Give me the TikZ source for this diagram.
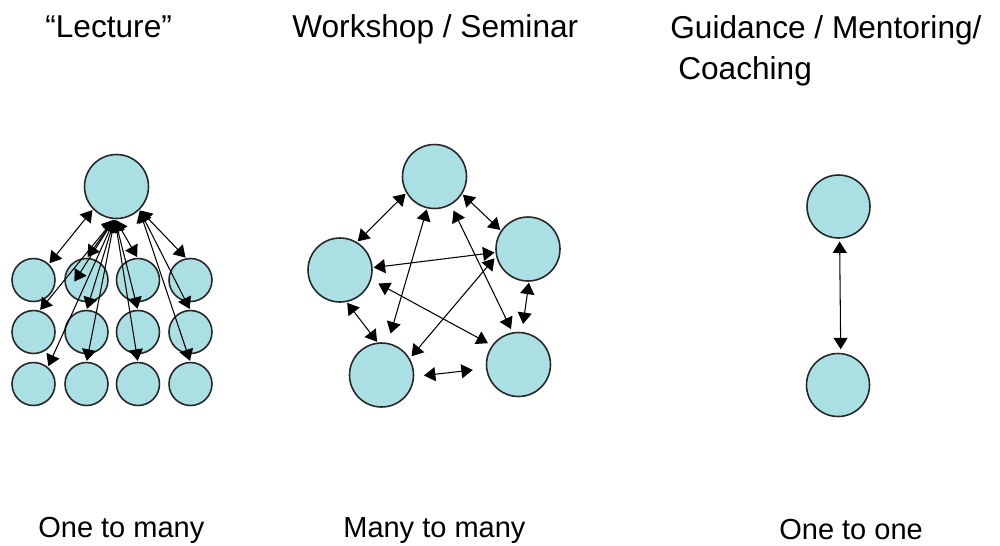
\documentclass[tikz,border=0pt]{standalone}
\usepackage{fontspec}
\setmainfont{Liberation Sans}
\usetikzlibrary{arrows.meta,calc}
\definecolor{bubble}{RGB}{170,224,227}
\tikzset{
  person/.style={circle, draw=black!85, line width=0.9pt, fill=bubble, inner sep=0pt, outer sep=0pt, minimum size=1.28cm},
  pupil/.style={person, minimum size=0.86cm},
  link/.style={{Triangle[length=6.5pt,width=8pt]}-{Triangle[length=6.5pt,width=8pt]}, line width=0.6pt, shorten <=1pt, shorten >=1pt},
  title/.style={anchor=base west, font=\fontsize{18}{23.3}\selectfont, inner sep=0pt},
  caption/.style={anchor=base west, font=\fontsize{16.5}{20}\selectfont, inner sep=0pt}
}

\begin{document}
\begin{tikzpicture}[x=0.02cm, y=-0.02cm]
			%%%%% START %%%%%
			\useasboundingbox (0,0) rectangle (1000,545);
			
			\node[title] (tlec) at (45,37) {“Lecture”};
			\node[title] (twork) at (292,37) {Workshop / Seminar};
			\node[title, align=left] (tguide) at (670,79) {Guidance / Mentoring/\\\hspace*{0.25em}Coaching};
			
			\node[caption] (clec) at (38,537) {One to many};
			\node[caption] (cwork) at (343,537) {Many to many};
			\node[caption] (cguide) at (779,539) {One to one};
			
			%% lecture
			\node[person] (lt) at (116.5,186.5) {};
			
			\node[pupil] (l11) at (33.5,280) {};
			\node[pupil] (l12) at (86.5,280) {};
			\node[pupil] (l13) at (138,280) {};
			\node[pupil] (l14) at (190.5,280) {};
			
			\node[pupil] (l21) at (33.5,332) {};
			\node[pupil] (l22) at (86.5,332) {};
			\node[pupil] (l23) at (138,332) {};
			\node[pupil] (l24) at (190.5,332) {};
			
			\node[pupil] (l31) at (33.5,384) {};
			\node[pupil] (l32) at (86.5,384) {};
			\node[pupil] (l33) at (138,384) {};
			\node[pupil] (l34) at (190.5,384) {};
			
			\coordinate (l12in) at ($(l12)+(-13,3)$);
			
			\draw[link] (lt.224) -- (l11.46);
			\draw[link] (lt.315) -- (l14.100);
			
			\draw[link] (lt.267) -- (l12.north);
			\draw[link] (lt.267) -- (l12in);
			\draw[link] (lt.267) -- (l13.north);
			\draw[link] (lt.267) -- (l21.75);
			\draw[link] (lt.267) -- (l31.49);
			\draw[link] (lt.267) -- (l22.north);
			\draw[link] (lt.267) -- (l32.north);
			\draw[link] (lt.267) -- (l23.north);
			\draw[link] (lt.267) -- (l33.north);
			\draw[link] (lt.315) -- (l24.north);
			\draw[link] (lt.315) -- (l34.north);
			
			%% workshop
			\node[person] (wt) at (434.5,176.5) {};
			\node[person] (wl) at (340,270) {};
			\node[person] (wr) at (528,249) {};
			\node[person] (wbl) at (381.5,375) {};
			\node[person] (wbr) at (518.5,364.5) {};
			
			\draw[link] (wt.210) -- (wl.59);
			\draw[link] (wt.328) -- (wr.146);
			\draw[link, shorten >=6pt] (wt.257) -- (wbl.79);
			\draw[link, shorten <=4pt, shorten >=2.5pt] (wt.300) -- (wbr.100);
			\draw[link] (wl.4) -- (wr.186);
			\draw[link, shorten <=5pt, shorten >=3pt] (wl.343) -- (wbr.144);
			\draw[link] (wl.281) -- (wbl.96);
			\draw[link, shorten <=2pt, shorten >=2pt] (wr.192) -- (wbl.30);
			\draw[link, shorten >=5pt] (wr.272) -- (wbr.84);
			\draw[link, shorten <=6pt, shorten >=8pt] (wbl.357) -- (wbr.187);
			
			%% guidance
			\node[person, minimum size=1.26cm] (gt) at (838.5,206.5) {};
			\node[person, minimum size=1.26cm] (gb) at (838,385) {};
			
			\draw[link, shorten <=2pt, shorten >=2.5pt] (gt.272) -- (gb.85);
			
			%%%%% END %%%%%
\end{tikzpicture}
\end{document}
